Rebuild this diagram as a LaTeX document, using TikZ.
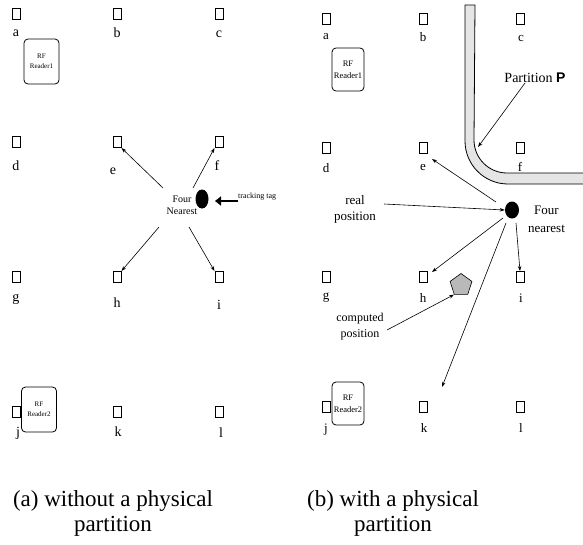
\documentclass[tikz,border=0pt]{standalone}
\usepackage{fontspec}
\setmainfont{Liberation Serif}
\newfontfamily\blockfont{Liberation Sans}
\usetikzlibrary{arrows.meta,shapes.geometric}
\newcommand{\fsz}[2]{\fontsize{#1}{#2}\selectfont}
\begin{document}
\begin{tikzpicture}[x=1pt,y=-1pt,
  tagbox/.style={draw, line width=1pt, minimum width=8pt, minimum height=11pt, inner sep=0pt},
  letterL/.style={inner sep=0pt, font=\fsz{14}{14}},
  letterR/.style={inner sep=0pt, font=\fsz{13}{13}},
  readerL/.style={draw, line width=0.8pt, rounded corners=4pt, align=center, inner sep=0pt,
    minimum width=35pt, minimum height=45pt, font=\fsz{7}{10}},
  readerR/.style={draw, line width=0.8pt, rounded corners=4pt, align=center, inner sep=0pt,
    minimum width=32pt, minimum height=43pt, font=\fsz{8.5}{12}},
  tagdot/.style={ellipse, fill=black, inner sep=0pt},
  arr/.style={-{Stealth[length=5pt,width=3.5pt]}, line width=0.6pt},
  bigarr/.style={-{Triangle[length=6pt,width=9pt]}, line width=2.6pt},
  txt/.style={inner sep=0pt, align=center},
  partitionband/.style={draw, line width=0.8pt, fill=gray!20},
  caption/.style={inner sep=0pt, align=center, font=\fsz{23}{25}}
]
\useasboundingbox (0,0) rectangle (583,544);

% ---------------- left panel ----------------
\node[tagbox] (La) at (16,14) {};
\node[tagbox] (Lb) at (117,14) {};
\node[tagbox] (Lc) at (219,14) {};
\node[tagbox] (Ld) at (16,142) {};
\node[tagbox] (Le) at (117,142) {};
\node[tagbox] (Lf) at (219,142) {};
\node[tagbox] (Lg) at (16,277) {};
\node[tagbox] (Lh) at (117,277) {};
\node[tagbox] (Li) at (219,277) {};
\node[tagbox] (Lj) at (16,412) {};
\node[tagbox] (Lk) at (117,412) {};
\node[tagbox] (Ll) at (219,412) {};

\node[letterL] (La-t) at (16,33) {a};
\node[letterL] (Lb-t) at (117,33) {b};
\node[letterL] (Lc-t) at (219,34) {c};
\node[letterL] (Ld-t) at (16,166) {d};
\node[letterL] (Le-t) at (113,171) {e};
\node[letterL] (Lf-t) at (217,166) {f};
\node[letterL] (Lg-t) at (16,299) {g};
\node[letterL] (Lh-t) at (117,303) {h};
\node[letterL] (Li-t) at (219,305) {i};
\node[letterL] (Lj-t) at (18,433) {j};
\node[letterL] (Lk-t) at (118,432) {k};
\node[letterL] (Ll-t) at (221,433) {l};

\node[readerL] (LR1) at (41.5,61.5) {RF\\Reader1};
\node[readerL] (LR2) at (39,409.5) {RF\\Reader2};

\node[tagdot, minimum width=13pt, minimum height=19pt] (LT) at (202,199) {};
\node[txt, font=\fsz{10}{12}] (LFour) at (182,205.5) {Four\\Nearest};
\node[txt, font=\fsz{8}{8}, anchor=west] (Ltrack) at (238,197) {tracking tag};

\coordinate (Lse) at (163,188);
\coordinate (Lsf) at (193,188);
\coordinate (Lsh) at (159,227);
\coordinate (Lsi) at (189,227);
\coordinate (Ltrack-s) at (238,201);
\coordinate (Ltrack-e) at (215,201);

\draw[arr] (Lse) -- (Le.south east);
\draw[arr] (Lsf) -- (Lf.south west);
\draw[arr] (Lsh) -- (Lh.north east);
\draw[arr] (Lsi) -- (Li.north west);
\draw[bigarr] (Ltrack-s) -- (Ltrack-e);

% ---------------- right panel ----------------
\node[tagbox] (Ra) at (326,19) {};
\node[tagbox] (Rb) at (423,19) {};
\node[tagbox] (Rc) at (520,19) {};
\node[tagbox] (Rd) at (326,148) {};
\node[tagbox] (Re) at (423,148) {};
\node[tagbox] (Rf) at (520,148) {};
\node[tagbox] (Rg) at (326,277) {};
\node[tagbox] (Rh) at (423,277) {};
\node[tagbox] (Ri) at (520,277) {};
\node[tagbox] (Rj) at (326,407) {};
\node[tagbox] (Rk) at (423,407) {};
\node[tagbox] (Rl) at (520,407) {};

\node[letterR] (Ra-t) at (326,37) {a};
\node[letterR] (Rb-t) at (423,37) {b};
\node[letterR] (Rc-t) at (521,38) {c};
\node[letterR] (Rd-t) at (326,168) {d};
\node[letterR] (Re-t) at (423,167) {e};
\node[letterR] (Rf-t) at (520,167) {f};
\node[letterR] (Rg-t) at (326,298) {g};
\node[letterR] (Rh-t) at (423,298) {h};
\node[letterR] (Ri-t) at (521,298) {i};
\node[letterR] (Rj-t) at (326,430) {j};
\node[letterR] (Rk-t) at (424,428) {k};
\node[letterR] (Rl-t) at (521,428) {l};

\node[readerR] (RR1) at (348,69.5) {RF\\Reader1};
\node[readerR] (RR2) at (348,403.5) {RF\\Reader2};

% partition band
\path[partitionband] (465,5) -- (465,141) arc (180:90:43) -- (590,184) -- (590,173)
  -- (507,173) arc (90:180:33) -- (475,5) -- cycle;

\node[txt, font=\fsz{14}{14}] (RPart) at (535,78) {Partition {\blockfont\bfseries P}};

\node[tagdot, minimum width=14pt, minimum height=17pt] (RT) at (512,210) {};
\node[txt, font=\fsz{13}{18}] (RFour) at (546.5,219.5) {Four\\nearest};
\node[txt, font=\fsz{13}{16}] (RReal) at (355,209.5) {real\\position};
\node[txt, font=\fsz{12}{16}] (RComp) at (360,326.5) {computed\\position};

\node[regular polygon, regular polygon sides=5, draw, line width=0.6pt, fill=gray!55,
  minimum size=23pt, inner sep=0pt] (RP) at (461,285) {};

\coordinate (Rsp) at (525,83);
\coordinate (Rep) at (478,147);
\coordinate (Rse) at (496,202);
\coordinate (Ree) at (432,159);
\coordinate (Rsh) at (503,218);
\coordinate (Reh) at (432,272);
\coordinate (Rsi) at (516,223);
\coordinate (Rsk) at (506,223);
\coordinate (Rek) at (442,387);
\coordinate (Rsr) at (384,204);
\coordinate (Rsc) at (387,330);

\draw[arr] (Rsp) -- (Rep);
\draw[arr] (Rse) -- (Ree);
\draw[arr] (Rsh) -- (Reh);
\draw[arr] (Rsi) -- (Ri.north);
\draw[arr] (Rsk) -- (Rek);
\draw[arr] (Rsr) -- (RT.west);
\draw[arr] (Rsc) -- (RP.corner 3);

% captions
\node[caption] (capA) at (113,513) {(a) without a physical\\partition};
\node[caption] (capB) at (393,513) {(b) with a physical\\partition};
\end{tikzpicture}
\end{document}
